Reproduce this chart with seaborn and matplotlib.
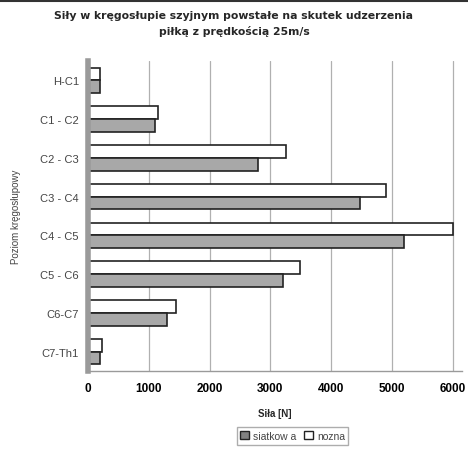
import matplotlib
matplotlib.use("Agg")
import matplotlib.pyplot as plt
import matplotlib.patches as mpatches
import pandas as pd
import seaborn as sns

# data
levels = ['H-C1', 'C1 - C2', 'C2 - C3', 'C3 - C4', 'C4 - C5', 'C5 - C6', 'C6-C7', 'C7-Th1']
siatkowa = [190, 1100, 2800, 4480, 5190, 3210, 1300, 200]
nozna = [200, 1150, 3250, 4900, 6000, 3480, 1450, 230]

df = pd.DataFrame({
    'poziom': levels * 2,
    'sila': nozna + siatkowa,
    'pilka': ['nozna'] * len(levels) + ['siatkowa'] * len(levels),
})

sns.set_style('white')
plt.rcParams['font.family'] = ['Liberation Sans', 'DejaVu Sans']

fig = plt.figure(figsize=(4.68, 4.52), dpi=100)
ax = fig.add_axes([0.188, 0.177, 0.799, 0.686])

palette = {'nozna': 'white', 'siatkowa': '#a8a8a8'}
sns.barplot(data=df, x='sila', y='poziom', hue='pilka', hue_order=['nozna', 'siatkowa'],
            order=levels, palette=palette, edgecolor='#222222', linewidth=1.2,
            width=0.66, dodge=True, ax=ax, legend=False)

ax.set_xlim(0, 6150)
ax.set_xticks([0, 1000, 2000, 3000, 4000, 5000, 6000])
ax.xaxis.grid(True, color='#b0b0b0', linewidth=0.9)
ax.set_axisbelow(True)
for s in ['top', 'right']:
    ax.spines[s].set_visible(False)
ax.spines['left'].set_color('#9a9a9a')
ax.spines['left'].set_linewidth(4)
ax.spines['bottom'].set_color('#9a9a9a')
ax.spines['bottom'].set_linewidth(1)

ax.tick_params(axis='x', labelsize=8.5, length=0, pad=8, colors='black')
ax.tick_params(axis='y', labelsize=8, length=3, colors='#555555', labelcolor='#444444')
for lab in ax.get_xticklabels():
    lab.set_fontweight('bold')

ax.set_xlabel('Siła [N]', fontsize=7, fontweight='bold', labelpad=10)
ax.set_ylabel('Poziom kręgosłupowy', fontsize=7, color='#444444', labelpad=14)

fig.suptitle('Siły w kręgosłupie szyjnym powstałe na skutek udzerzenia\npiłką z prędkością 25m/s',
             fontsize=7.8, fontweight='bold', y=0.975, family=['DejaVu Sans'],
             linespacing=1.5)

handles = [mpatches.Patch(facecolor='#808080', edgecolor='#222222', label='siatkow a'),
           mpatches.Patch(facecolor='white', edgecolor='#222222', label='nozna')]
fig.legend(handles=handles, loc='center', bbox_to_anchor=(0.625, 0.033), ncol=2,
           fontsize=7.5, frameon=True, fancybox=False, edgecolor='#999999',
           handlelength=0.8, handleheight=0.8, handletextpad=0.4, columnspacing=0.8,
           borderpad=0.35, labelcolor='#444444')

fig.add_artist(plt.Line2D([0, 1], [0.995, 0.995], color='#333333', linewidth=1.5))

fig.savefig('out.png', dpi=100)
